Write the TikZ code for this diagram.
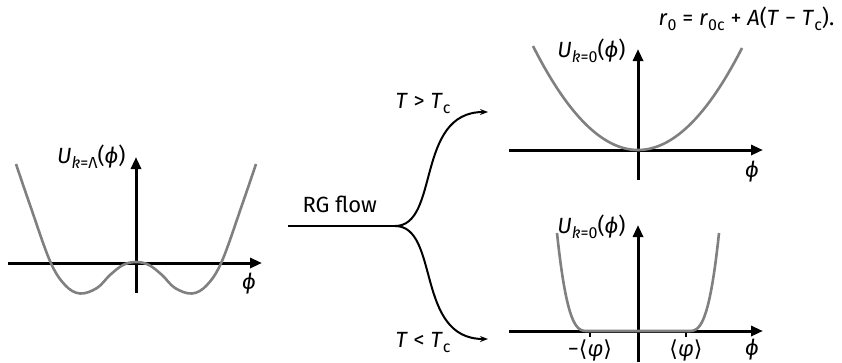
\documentclass[tikz,border=0pt]{standalone}
\usepackage{fontspec}
\setmainfont{Fira Sans}
\newfontfamily\bracketfont{DejaVu Sans}
\usepackage{xcolor}
\usetikzlibrary{arrows.meta}
\definecolor{potgray}{RGB}{128,128,128}
\newcommand{\lo}[1]{\raisebox{-0.25em}{\fontsize{16}{16}\selectfont #1}}
\newcommand{\fld}{\textit{ϕ}}
\newcommand{\vev}{{\bracketfont ⟨}\textit{φ}{\bracketfont ⟩}}

\begin{document}
\begin{tikzpicture}[x=1pt, y=-1pt, font=\fontsize{22}{26}\selectfont,
    axis/.style={line width=3pt, -{Triangle[length=12pt,width=10pt]}},
    pot/.style={line width=2.6pt, draw=potgray},
    flow/.style={line width=2pt, -{Stealth[length=8pt,width=6pt]}},
    tickmark/.style={line width=1.2pt}]
  \useasboundingbox (0,0) rectangle (842,362);

  % left: double well at k = Lambda
  \coordinate (L-w) at (8,263);   \coordinate (L-e) at (262,263);
  \coordinate (L-s) at (136,293); \coordinate (L-n) at (136,157);
  \draw[axis] (L-w) -- (L-e);
  \draw[axis] (L-s) -- (L-n);
  \draw[pot] plot[smooth, tension=0.6] coordinates {(16,164) (30,205) (50,261) (65,285) (80,293.5)
    (97,288) (110,275) (123,265) (136,262) (149,265) (162,275) (175,288) (192,293.5)
    (207,285) (222,261) (242,205) (256,164)};
  \node[anchor=base east] (L-lab) at (129,163) {\textit{U}\lo{\textit{k}=Λ}(\fld)};
  \node (L-phi) at (249,284) {\fld};

  % RG flow
  \coordinate (F-in) at (288,226);
  \coordinate (F-br) at (395,226);
  \coordinate (F-up) at (488,112);
  \coordinate (F-dn) at (488,339);
  \draw[line width=2pt] (F-in) -- (F-br);
  \draw[flow] (F-br) .. controls (440,226) and (415,112) .. (F-up);
  \draw[flow] (F-br) .. controls (440,226) and (415,339) .. (F-dn);
  \node[anchor=base west] (rg) at (299,212) {RG flow};
  \node[anchor=base west] (hot) at (392,108) {\textit{T} > \textit{T}\lo{c}};
  \node[anchor=base west] (cold) at (392,347) {\textit{T} < \textit{T}\lo{c}};

  % top right: T > Tc
  \coordinate (A-w) at (509,150); \coordinate (A-e) at (763,150);
  \coordinate (A-s) at (638,180); \coordinate (A-n) at (638,49);
  \draw[axis] (A-w) -- (A-e);
  \draw[axis] (A-s) -- (A-n);
  \draw[pot] plot[domain=-105:104, samples=60] ({638+\x}, {150-0.00943*\x*\x});
  \node[anchor=base east] (A-lab) at (629,57) {\textit{U}\lo{\textit{k}=0}(\fld)};
  \node (A-phi) at (752,172) {\fld};
  \node[anchor=base west] (law) at (655,25) {\textit{r}\lo{0} = \textit{r}\lo{0c} + \textit{A}(\textit{T} − \textit{T}\lo{c}).};

  % bottom right: T < Tc
  \coordinate (B-w) at (509,331); \coordinate (B-e) at (763,331);
  \coordinate (B-s) at (638,362); \coordinate (B-n) at (638,225);
  \draw[axis] (B-w) -- (B-e);
  \draw[axis] (B-s) -- (B-n);
  \coordinate (B-tl) at (590,331); \coordinate (B-tr) at (686,331);
  \draw[tickmark] (B-tl) -- ++(0,6);
  \draw[tickmark] (B-tr) -- ++(0,6);
  \draw[pot] plot[domain=31:0, samples=30] ({588-\x}, {331-98*(\x/31)^3})
    -- (688,331) -- plot[domain=0:31, samples=30] ({688+\x}, {331-98*(\x/31)^3});
  \node[anchor=base east] (B-lab) at (629,233) {\textit{U}\lo{\textit{k}=0}(\fld)};
  \node (B-m) at (590,351) {−\vev};
  \node (B-p) at (686,351) {\vev};
  \node (B-phi) at (752,350) {\fld};
\end{tikzpicture}
\end{document}
